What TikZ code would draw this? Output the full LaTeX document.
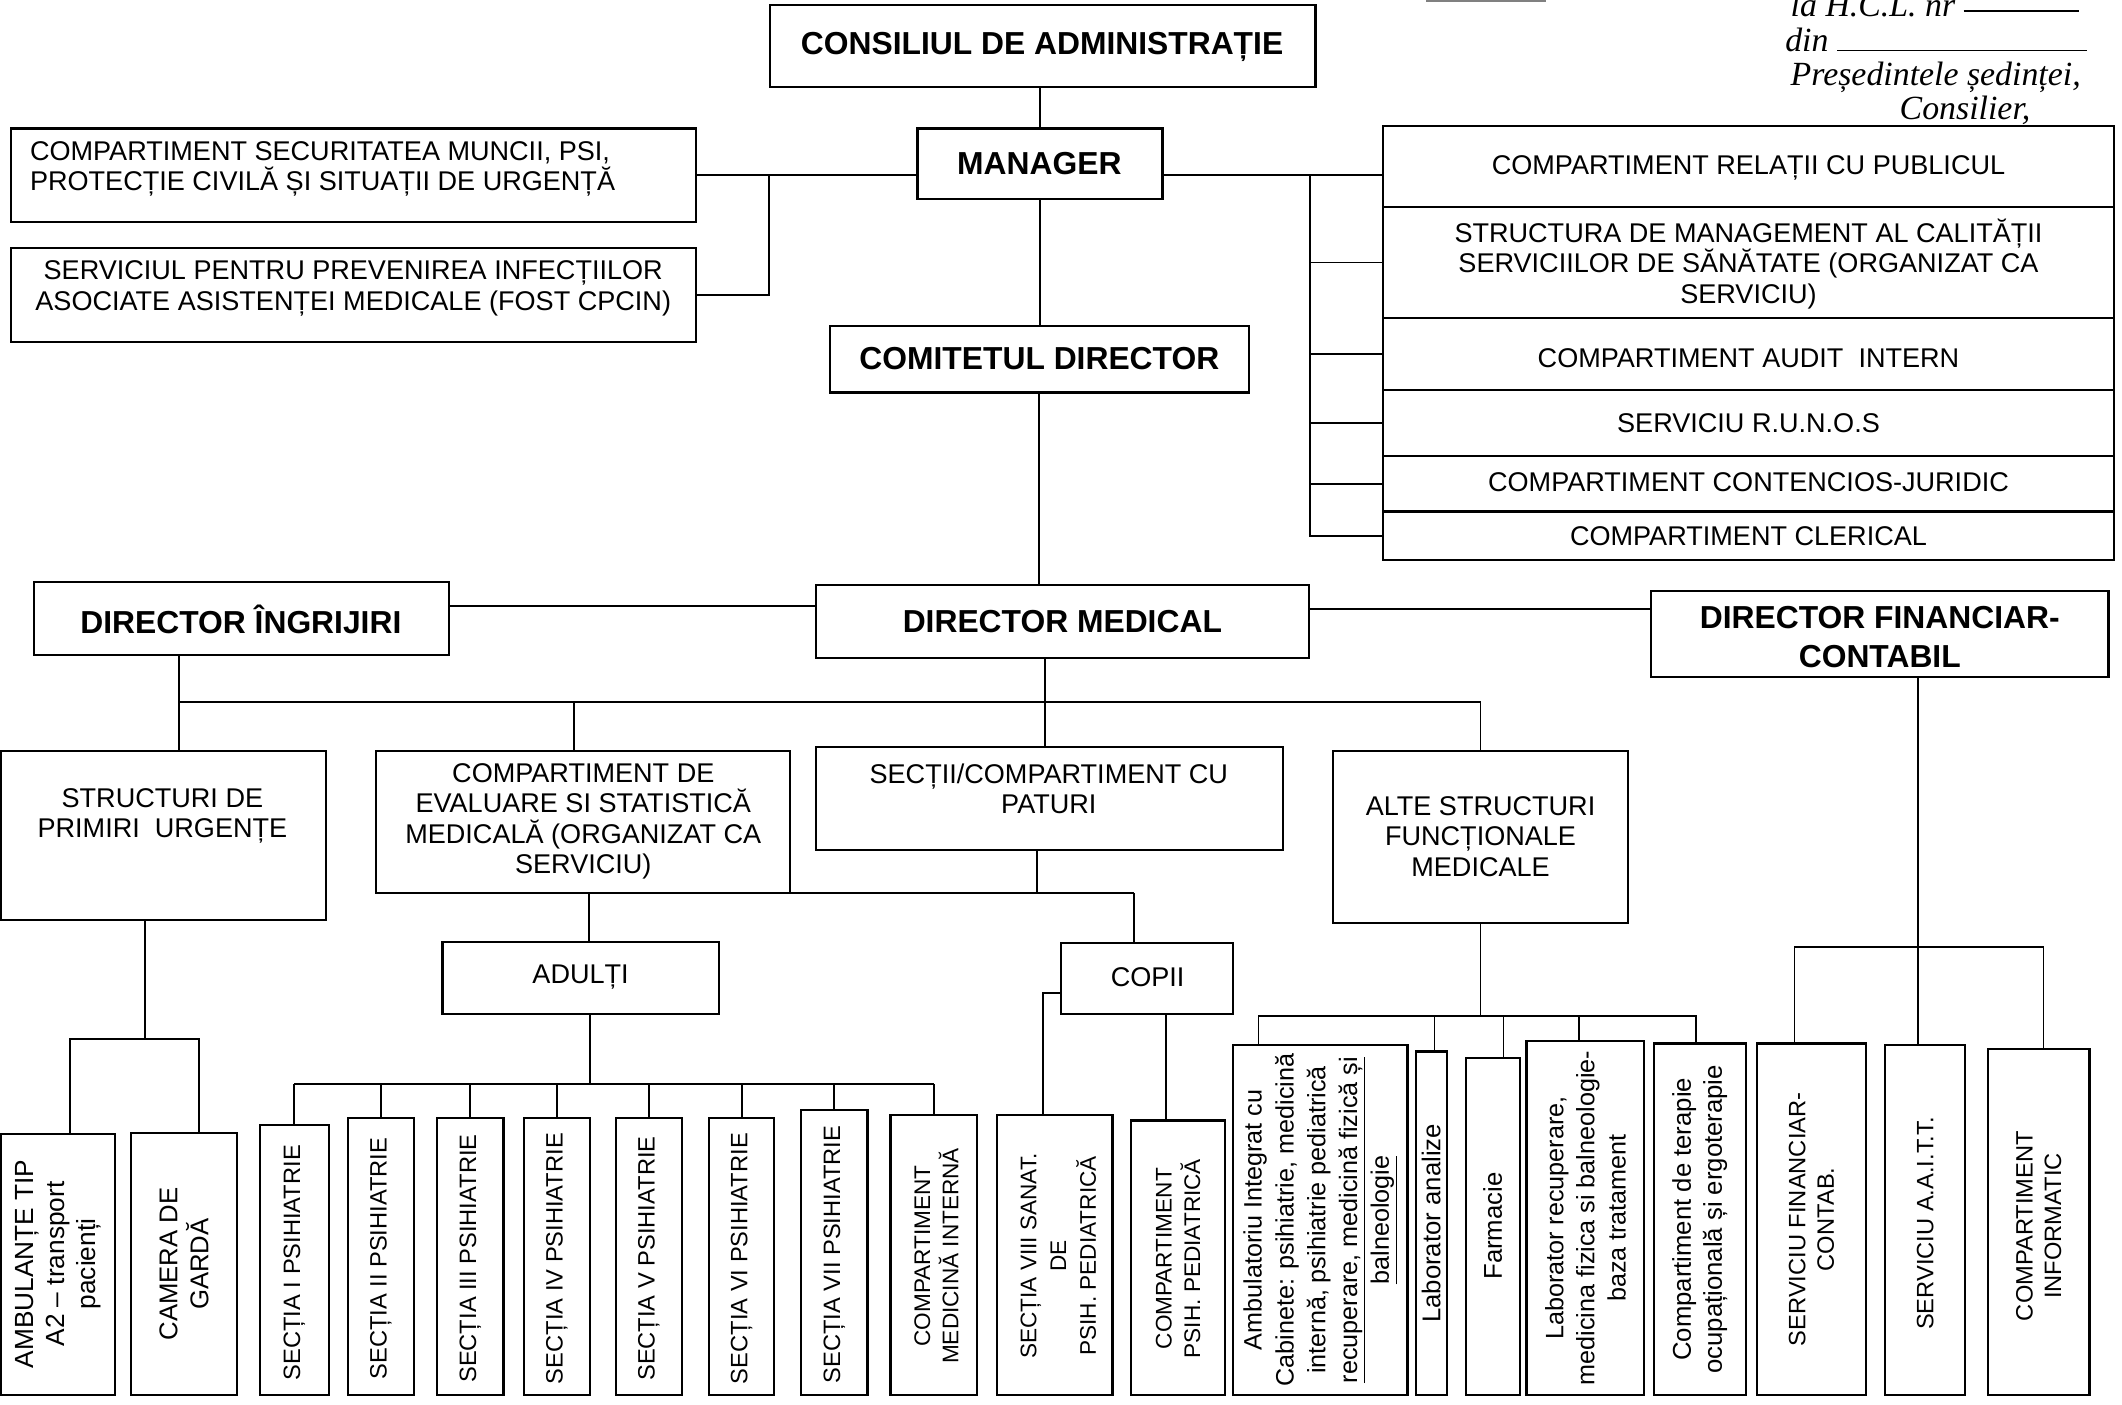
\documentclass[tikz,border=0pt]{standalone}
\usepackage{fontspec}
\setmainfont{Liberation Sans}
\newfontfamily\handfont{Liberation Serif}
\usetikzlibrary{fit,calc}
\begin{document}
\begin{tikzpicture}[x=1pt,y=-1pt,
  box/.style={draw, line width=1.6pt, inner sep=0pt, outer sep=0pt},
  hd/.style={font=\fontsize{23.5}{29}\selectfont\bfseries, align=center, inner sep=0pt},
  tx/.style={font=\fontsize{20}{22.5}\selectfont, align=center, inner sep=0pt},
  vt/.style={rotate=90, font=\fontsize{17.5}{21}\selectfont, align=center, inner sep=0pt},
  vm/.style={rotate=90, font=\fontsize{19}{23}\selectfont, align=center, inner sep=0pt},
  hw/.style={font=\handfont\itshape\fontsize{25}{26}\selectfont, inner sep=0pt},
  ln/.style={line width=1.3pt},
]
\useasboundingbox (0,0) rectangle (1568,1038);

% ---------- top level ----------
\node[box, fit={(569,4)(972,64)}] (cons) {};
\node[hd] (t-cons) at (770,35) {CONSILIUL DE ADMINISTRAȚIE};
\node[box, fit={(678,95)(859,147)}] (mgr) {};
\node[hd] (t-mgr) at (768,121) {MANAGER};
\node[box, fit={(8,95)(514,164)}] (secm) {};
\node[tx, align=left, anchor=west] (t-secm) at (22,125) {COMPARTIMENT SECURITATEA MUNCII, PSI,\\PROTECȚIE CIVILĂ ȘI SITUAȚII DE URGENȚĂ};
\node[box, fit={(8,183)(514,253)}] (spi) {};
\node[tx] (t-spi) at (261,213) {SERVICIUL PENTRU PREVENIREA INFECȚIILOR\\ASOCIATE ASISTENȚEI MEDICALE (FOST CPCIN)};

\node[box, fit={(1022,93)(1562,153)}] (r1) {};
\node[tx] (t-r1) at (1292,124) {COMPARTIMENT RELAȚII CU PUBLICUL};
\node[box, fit={(1022,153)(1562,235)}] (r2) {};
\node[tx] (t-r2) at (1292,195) {STRUCTURA DE MANAGEMENT AL CALITĂȚII\\SERVICIILOR DE SĂNĂTATE (ORGANIZAT CA\\SERVICIU)};
\node[box, fit={(1022,235)(1562,288)}] (r3) {};
\node[tx] (t-r3) at (1292,265) {COMPARTIMENT AUDIT\ \ INTERN};
\node[box, fit={(1022,288)(1562,337)}] (r4) {};
\node[tx] (t-r4) at (1292,313) {SERVICIU R.U.N.O.S};
\node[box, fit={(1022,337)(1562,378)}] (r5) {};
\node[tx] (t-r5) at (1292,356) {COMPARTIMENT CONTENCIOS-JURIDIC};
\node[box, fit={(1022,378)(1562,414)}] (r6) {};
\node[tx] (t-r6) at (1292,396) {COMPARTIMENT CLERICAL};

\node[box, fit={(613,241)(923,290)}] (com) {};
\node[hd] (t-com) at (768,265) {COMITETUL DIRECTOR};

\draw[ln] (mgr.north |- cons.south) -- (mgr.north);
\draw[ln] (mgr.south) -- (mgr.south |- com.north);
\draw[ln] (secm.east) -- (secm.east -| mgr.west);
\coordinate (lv) at (568,129.5);
\draw[ln] (lv) |- (spi.east);
\draw[ln] (mgr.east |- secm.east) -- (r1.west |- secm.east);
\coordinate (rv) at (968,129.5);
\draw[ln] (rv) |- (r6.west);
\foreach \r in {r2,r3,r4,r5} { \draw[ln] (rv |- \r.west) -- (\r.west); }

% ---------- directors ----------
\node[box, fit={(25,430)(332,484)}] (dirI) {};
\node[hd] (t-dirI) at (178,458) {DIRECTOR ÎNGRIJIRI};
\node[box, fit={(603,432)(967,486)}] (dirM) {};
\node[hd] (t-dirM) at (785,459) {DIRECTOR MEDICAL};
\node[box, fit={(1220,437)(1558,500)}] (dirF) {};
\node[hd] (t-dirF) at (1389,471) {DIRECTOR FINANCIAR-\\CONTABIL};

\draw[ln] (com.south) -- (com.south |- dirM.north);
\draw[ln] ([yshift=9pt]dirI.east) -- ([yshift=9pt]dirI.east -| dirM.west);
\draw[ln] ([yshift=9pt]dirM.east) -- ([yshift=9pt]dirM.east -| dirF.west);

% ---------- medical structures ----------
\node[box, fit={(1,555)(241,680)}] (spu) {};
\node[tx] (t-spu) at (120,603) {STRUCTURI DE\\PRIMIRI\ \ URGENȚE};
\node[box, fit={(278,555)(584,660)}] (eval) {};
\node[tx] (t-eval) at (431,607) {COMPARTIMENT DE\\EVALUARE SI STATISTICĂ\\MEDICALĂ (ORGANIZAT CA\\SERVICIU)};
\node[box, fit={(603,552)(948,628)}] (sec) {};
\node[tx] (t-sec) at (775,583) {SECȚII/COMPARTIMENT CU\\PATURI};
\node[box, fit={(985,555)(1203,682)}] (alte) {};
\node[tx] (t-alte) at (1094,618) {ALTE STRUCTURI\\FUNCȚIONALE\\MEDICALE};

\coordinate (b1L) at (132,519);
\coordinate (b1R) at (1094,519);
\coordinate (b1E) at (424,519);
\coordinate (b1M) at (772,519);
\draw[ln] (b1L |- dirI.south) -- (b1L |- spu.north);
\draw[ln] (b1L) -- (b1R) -- (b1R |- alte.north);
\draw[ln] (b1E) -- (b1E |- eval.north);
\draw[ln] (b1M |- dirM.south) -- (b1M |- sec.north);

\node[box, fit={(327,696)(531,749)}] (adulti) {};
\node[tx] (t-adulti) at (429,722) {ADULȚI};
\node[box, fit={(784,697)(911,749)}] (copii) {};
\node[tx] (t-copii) at (848,722) {COPII};

\coordinate (b2L) at (435,660);
\coordinate (b2R) at (838,660);
\coordinate (b2M) at (766,660);
\draw[ln] (b2M |- sec.south) -- (b2M);
\draw[ln] (b2L) -- (b2R);
\draw[ln] (b2L) -- (b2L |- adulti.north);
\draw[ln] (b2R) -- (b2R |- copii.north);

% ---------- bottom row ----------
\node[box, fit={(1,838)(85,1031)}] (amb) {};
\node[vt, font=\fontsize{19.4}{23}\selectfont] (t-amb) at (43,934) {AMBULANȚE TIP\\A2 – transport\\pacienți};
\node[box, fit={(97,837)(175,1031)}] (cam) {};
\node[vt, font=\fontsize{19}{23}\selectfont] (t-cam) at (136,934) {CAMERA DE\\GARDĂ};

\node[box, fit={(192,831)(243,1031)}] (s1) {};
\node[vt] (t-s1) at (217.5,933) {SECȚIA I PSIHIATRIE};
\node[box, fit={(257,826)(306,1031)}] (s2) {};
\node[vt] (t-s2) at (281.5,930) {SECȚIA II PSIHIATRIE};
\node[box, fit={(323,826)(372,1031)}] (s3) {};
\node[vt] (t-s3) at (347.5,930) {SECȚIA III PSIHIATRIE};
\node[box, fit={(387,826)(436,1031)}] (s4) {};
\node[vt] (t-s4) at (411.5,930) {SECȚIA IV PSIHIATRIE};
\node[box, fit={(455,826)(504,1031)}] (s5) {};
\node[vt] (t-s5) at (479.5,930) {SECȚIA V PSIHIATRIE};
\node[box, fit={(524,826)(572,1031)}] (s6) {};
\node[vt] (t-s6) at (548,930) {SECȚIA VI PSIHIATRIE};
\node[box, fit={(592,820)(641,1031)}] (s7) {};
\node[vt] (t-s7) at (616.5,927) {SECȚIA VII PSIHIATRIE};
\node[box, fit={(658,824)(722,1031)}] (s8) {};
\node[vt, font=\fontsize{16.7}{21}\selectfont] (t-s8) at (692,928) {COMPARTIMENT\\MEDICINĂ INTERNĂ};
\node[box, fit={(737,824)(822,1031)}] (s9) {};
\node[vt, font=\fontsize{16.7}{22}\selectfont] (t-s9) at (782,928) {SECȚIA VIII SANAT.\\DE\\PSIH. PEDIATRICĂ};
\node[box, fit={(836,828)(905,1031)}] (s10) {};
\node[vt, font=\fontsize{16.7}{21}\selectfont] (t-s10) at (870.5,930) {COMPARTIMENT\\PSIH. PEDIATRICĂ};

\coordinate (b3) at (436,801);
\draw[ln] (b3 |- adulti.south) -- (b3);
\draw[ln] (s1.north |- b3) -- (s8.north |- b3);
\foreach \s in {s1,s2,s3,s4,s5,s6,s7,s8} { \draw[ln] (\s.north |- b3) -- (\s.north); }
\draw[ln] ([yshift=-11pt]copii.west) -| ([xshift=-9pt]s9.north);
\draw[ln] ([xshift=14pt]copii.south) -- ([xshift=14pt]copii.south |- s10.north);

\node[box, fit={(911,772)(1040,1031)}] (a1) {};
\node[vm, font=\fontsize{18.6}{23.5}\selectfont] (t-a1) at (975.5,901.5) {Ambulatoriu Integrat cu\\Cabinete: psihiatrie, medicină\\internă, psihiatrie pediatrică\\\underline{recuperare, medicină fizică și}\\\underline{balneologie}};
\node[box, fit={(1046,777)(1069,1031)}] (a2) {};
\node[vm] (t-a2) at (1057.5,904) {Laborator analize};
\node[box, fit={(1083,782)(1123,1031)}] (a3) {};
\node[vm] (t-a3) at (1103,906) {Farmacie};
\node[box, fit={(1128,769)(1215,1031)}] (a4) {};
\node[vm, font=\fontsize{18.6}{23}\selectfont] (t-a4) at (1171.5,900) {Laborator recuperare,\\medicina fizica si balneologie-\\baza tratament};
\node[box, fit={(1222,771)(1290,1031)}] (a5) {};
\node[vm] (t-a5) at (1256,901) {Compartiment de terapie\\ocupațională și ergoterapie};

\coordinate (b4) at (1094,751);
\coordinate (b4L) at (930,751);
\coordinate (b4R) at (1253,751);
\coordinate (d-a2) at (1060,751);
\coordinate (d-a3) at (1111,751);
\coordinate (d-a4) at (1167,751);
\draw[ln] (alte.south) -- (b4);
\draw[ln] (b4L |- a1.north) -- (b4L) -- (b4R) -- (b4R |- a5.north);
\draw[ln] (d-a2) -- (d-a2 |- a2.north);
\draw[ln] (d-a3) -- (d-a3 |- a3.north);
\draw[ln] (d-a4) -- (d-a4 |- a4.north);

\node[box, fit={(1298,771)(1379,1031)}] (f1) {};
\node[vt] (t-f1) at (1338.5,901) {SERVICIU FINANCIAR-\\CONTAB.};
\node[box, fit={(1393,772)(1452,1031)}] (f2) {};
\node[vt] (t-f2) at (1422.5,904) {SERVICIU A.A.I.T.T.};
\node[box, fit={(1469,775)(1544,1031)}] (f3) {};
\node[vt] (t-f3) at (1506.5,906) {COMPARTIMENT\\INFORMATIC};

\coordinate (b5) at (1417,700);
\coordinate (b5L) at (1326,700);
\coordinate (b5R) at (1510,700);
\draw[ln] (b5 |- dirF.south) -- (b5 |- f2.north);
\draw[ln] (b5L |- f1.north) -- (b5L) -- (b5R) -- (b5R |- f3.north);

\coordinate (b6) at (107,768);
\coordinate (b6L) at (52,768);
\coordinate (b6R) at (147,768);
\draw[ln] (b6 |- spu.south) -- (b6);
\draw[ln] (b6L |- amb.north) -- (b6L) -- (b6R) -- (b6R |- cam.north);

% ---------- handwritten note ----------
\node[hw, anchor=base west] (h1) at (1323,12) {la H.C.L. nr \rule[3pt]{85pt}{1.4pt}};
\node[hw, anchor=base west] (h2) at (1319,38) {din \rule[0pt]{185pt}{1.4pt}};
\node[hw, anchor=base west] (h3) at (1323,63) {Președintele ședinței,};
\node[hw, anchor=base] (h4) at (1452,88) {Consilier,};
\draw[line width=1pt, gray] (1054,0.8) -- (1142,0.8);
\end{tikzpicture}
\end{document}
